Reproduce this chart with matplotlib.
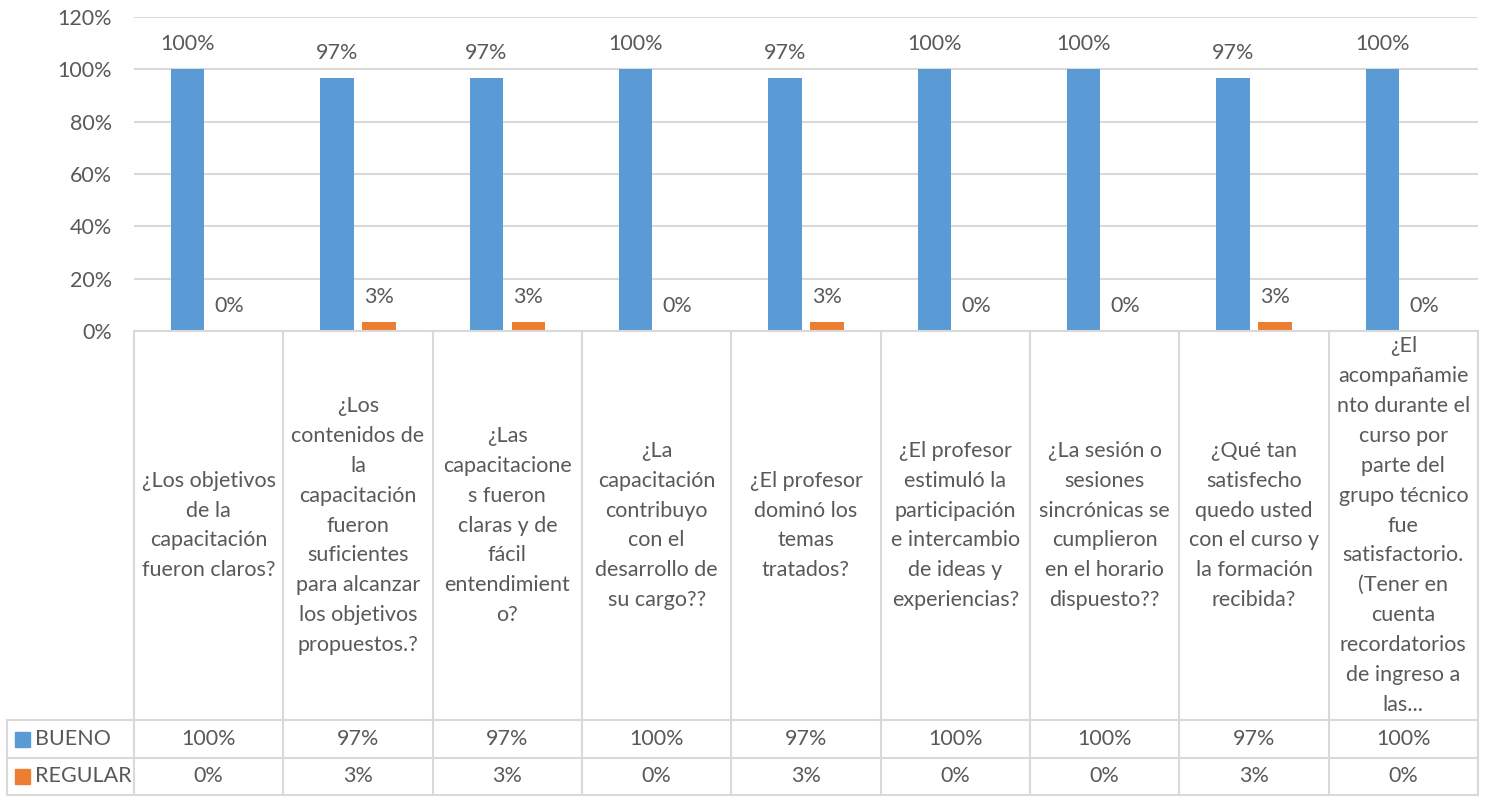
import matplotlib
matplotlib.use("Agg")
import matplotlib.pyplot as plt
from matplotlib.patches import Rectangle
from matplotlib.ticker import PercentFormatter

plt.rcParams['font.family'] = ['Lato', 'DejaVu Sans']

categories = [
    "¿Los objetivos\nde la\ncapacitación\nfueron claros?",
    "¿Los\ncontenidos de\nla\ncapacitación\nfueron\nsuficientes\npara alcanzar\nlos objetivos\npropuestos.?",
    "¿Las\ncapacitacione\ns fueron\nclaras y de\nfácil\nentendimient\no?",
    "¿La\ncapacitación\ncontribuyo\ncon el\ndesarrollo de\nsu cargo??",
    "¿El profesor\ndominó los\ntemas\ntratados?",
    "¿El profesor\nestimuló la\nparticipación\ne intercambio\nde ideas y\nexperiencias?",
    "¿La sesión o\nsesiones\nsincrónicas se\ncumplieron\nen el horario\ndispuesto??",
    "¿Qué tan\nsatisfecho\nquedo usted\ncon el curso y\nla formación\nrecibida?",
    "¿El\nacompañamie\nnto durante el\ncurso por\nparte del\ngrupo técnico\nfue\nsatisfactorio.\n(Tener en\ncuenta\nrecordatorios\nde ingreso a\nlas...",
]
series_names = ["BUENO", "REGULAR"]
bueno = [1.00, 0.967, 0.967, 1.00, 0.967, 1.00, 1.00, 0.967, 1.00]
regular = [0.00, 0.033, 0.033, 0.00, 0.033, 0.00, 0.00, 0.033, 0.00]
bueno_labels = ["100%", "97%", "97%", "100%", "97%", "100%", "100%", "97%", "100%"]
regular_labels = ["0%", "3%", "3%", "0%", "3%", "0%", "0%", "3%", "0%"]

BLUE = "#5B9BD5"
ORANGE = "#ED7D31"
TXT = "#595959"
GRID = "#D9D9D9"
FS = 15.5

W, H = 1486, 797
fig = plt.figure(figsize=(W / 100, H / 100), dpi=100)
L, R, T, B = 134, 1478, 17, 331
ax = fig.add_axes([L / W, 1 - B / H, (R - L) / W, (B - T) / H])

n = len(categories)
xs = list(range(n))
bw = 0.223
off = 0.141
ax.bar([x - off for x in xs], bueno, width=bw, color=BLUE, zorder=3)
ax.bar([x + off for x in xs], regular, width=bw, color=ORANGE, zorder=3)

for x, v, lab in zip(xs, bueno, bueno_labels):
    ax.annotate(lab, (x - off, v), xytext=(0, 25), textcoords="offset pixels",
                ha="center", va="center", fontsize=FS, color=TXT)
for x, v, lab in zip(xs, regular, regular_labels):
    ax.annotate(lab, (x + off, v), xytext=(0, 25), textcoords="offset pixels",
                ha="center", va="center", fontsize=FS, color=TXT)

ax.set_xlim(-0.5, n - 0.5)
ax.set_ylim(0, 1.2)
ax.set_yticks([0, 0.2, 0.4, 0.6, 0.8, 1.0, 1.2])
ax.yaxis.set_major_formatter(PercentFormatter(1.0, decimals=0))
ax.tick_params(axis="y", length=0, pad=16, labelsize=FS, labelcolor=TXT)
ax.set_xticks([])
ax.grid(axis="y", color=GRID, linewidth=1.5, zorder=0)
for s in ["top", "right", "left"]:
    ax.spines[s].set_visible(False)
ax.spines["bottom"].set_color(GRID)
ax.spines["bottom"].set_linewidth(1.5)
ax.spines["bottom"].set_zorder(4)

# data table below the axes (pixel layout -> axes fraction)
def fx(px):
    return (px - L) / (R - L)

def fy(py):
    return (B - py) / (B - T)

tr = ax.transAxes
head_bot, row1_bot, row2_bot = 720, 758, 795
left_px = 7
lk = dict(color=GRID, linewidth=1.5, transform=tr, clip_on=False)

for py in [head_bot, row1_bot, row2_bot]:
    ax.plot([fx(left_px), 1], [fy(py), fy(py)], **lk)
for i in range(n + 1):
    ax.plot([i / n, i / n], [0, fy(row2_bot)], **lk)
ax.plot([fx(left_px), fx(left_px)], [fy(head_bot), fy(row2_bot)], **lk)

for i, cat in enumerate(categories):
    ax.text((i + 0.5) / n, fy((B + head_bot) / 2), cat, transform=tr,
            ha="center", va="center", multialignment="center",
            fontsize=FS, color=TXT, linespacing=1.62, clip_on=False)

rows = [(series_names[0], BLUE, bueno_labels, head_bot, row1_bot),
        (series_names[1], ORANGE, regular_labels, row1_bot, row2_bot)]
for name, col, labs, top, bot in rows:
    ymid = (top + bot) / 2
    yc = fy(ymid)
    ax.add_patch(Rectangle((fx(15), fy(ymid + 7.5)), 15 / (R - L), 15 / (B - T),
                           transform=tr, color=col, clip_on=False))
    ax.text(fx(35), yc, name, transform=tr, ha="left", va="center",
            fontsize=FS, color=TXT, clip_on=False)
    for i, lab in enumerate(labs):
        ax.text((i + 0.5) / n, yc, lab, transform=tr, ha="center", va="center",
                fontsize=FS, color=TXT, clip_on=False)

fig.savefig("out.png", dpi=100, facecolor="white")
